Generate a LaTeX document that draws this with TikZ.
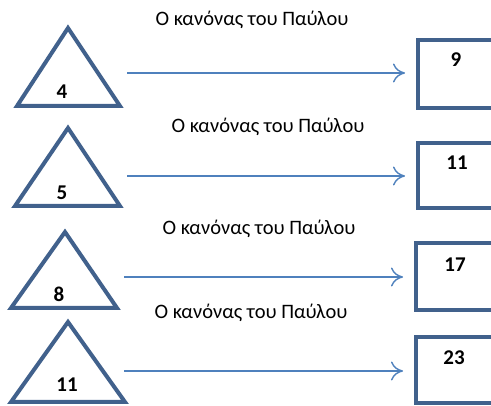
\documentclass[tikz,border=0pt]{standalone}
\usepackage{fontspec}
\setmainfont{Carlito}
\usetikzlibrary{arrows.meta}
\definecolor{shapeblue}{HTML}{41618C}
\definecolor{arrowblue}{HTML}{4F81BD}
\tikzset{
  tri/.style={draw=shapeblue, line width=4pt, line join=miter},
  outbox/.style={draw=shapeblue, line width=4pt, line join=miter},
  flow/.style={draw=arrowblue, line width=1.4pt, -{To[length=12pt,width=19pt,line width=1.4pt]}},
  rule/.style={font=\fontsize{20.5}{24}\selectfont, inner sep=0pt, text=black},
  num/.style={font=\fontsize{21}{24}\selectfont\bfseries, inner sep=0pt, text=black}
}
\begin{document}
\begin{tikzpicture}[x=1pt,y=-1pt]
\useasboundingbox (0,0) rectangle (491,406);
\clip (0,0) rectangle (491,406);
% triangles
\draw[tri] (17,106) -- (68,28) -- (120,106) -- cycle;
\draw[tri] (15,206) -- (68,128) -- (120,206) -- cycle;
\draw[tri] (11,308) -- (65,232) -- (117,308) -- cycle;
\draw[tri] (11,402) -- (68,322) -- (125,402) -- cycle;
\node[num] (n1) at (62,92) {4};
\node[num] (n2) at (62,193) {5};
\node[num] (n3) at (59,294) {8};
\node[num] (n4) at (67,385) {11};
% boxes
\node[outbox, minimum width=90pt, minimum height=68pt, inner sep=0pt] (b1) at (463,74) {};
\node[outbox, minimum width=90pt, minimum height=65pt, inner sep=0pt] (b2) at (463,175.5) {};
\node[outbox, minimum width=92pt, minimum height=67pt, inner sep=0pt] (b3) at (462,276.5) {};
\node[outbox, minimum width=92pt, minimum height=66pt, inner sep=0pt] (b4) at (462,370) {};
\node[num] (v1) at (456,60) {9};
\node[num] (v2) at (457,163) {11};
\node[num] (v3) at (455,265) {17};
\node[num] (v4) at (454,358) {23};
% rule labels
\node[rule] (r1) at (252,20) {Ο κανόνας του Παύλου};
\node[rule] (r2) at (268,127) {Ο κανόνας του Παύλου};
\node[rule] (r3) at (259,229) {Ο κανόνας του Παύλου};
\node[rule] (r4) at (251,313) {Ο κανόνας του Παύλου};
% arrows
\coordinate (s1) at (127,73);
\coordinate (s2) at (127,176);
\coordinate (s3) at (124,277);
\coordinate (s4) at (124,371);
\draw[flow, shorten >=11pt] (s1) -- (s1 -| b1.west);
\draw[flow, shorten >=11pt] (s2) -- (s2 -| b2.west);
\draw[flow, shorten >=11pt] (s3) -- (s3 -| b3.west);
\draw[flow, shorten >=11pt] (s4) -- (s4 -| b4.west);
\end{tikzpicture}
\end{document}
